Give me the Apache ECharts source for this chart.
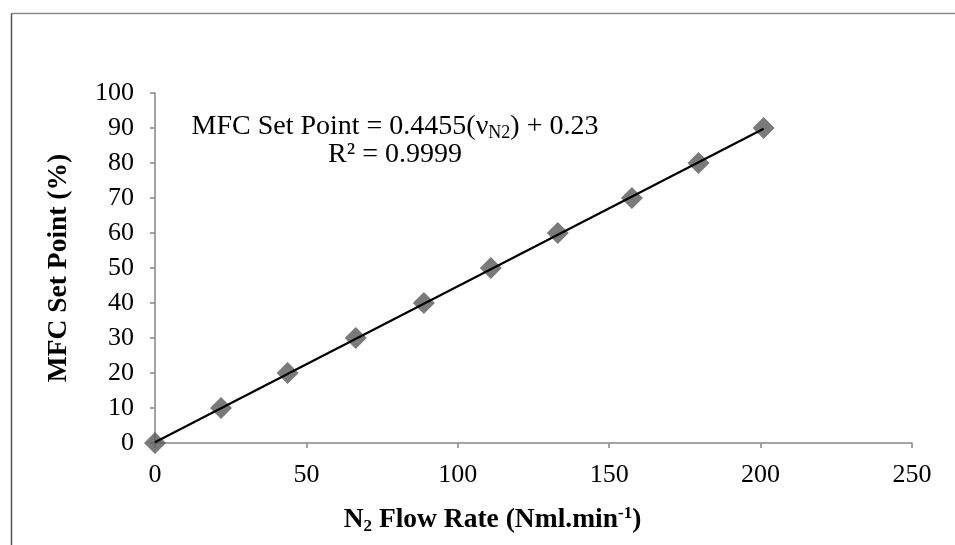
<!DOCTYPE html>
<html>
<head>
<meta charset="utf-8">
<script src="https://cdn.jsdelivr.net/npm/echarts@6/dist/echarts.min.js"></script>
<style>
  html, body { margin: 0; padding: 0; background: #fff; }
  #chart { width: 955px; height: 545px; }
</style>
</head>
<body>
<div id="chart"></div>
<script>
// Calibration data: N2 flow rate vs. MFC set point
const flowRate = [0, 21.8, 43.8, 66.3, 88.8, 110.9, 133.0, 157.5, 179.5, 201.0];
const setPoint = [0, 10, 20, 30, 40, 50, 60, 70, 80, 90];

// Linear fit reported on the chart
const fitSlope = 0.4455;
const fitIntercept = 0.23;
const fitR2 = '0.9999';

// Axis ranges and ticks
const xTicks = [0, 50, 100, 150, 200, 250];
const yTicks = [0, 10, 20, 30, 40, 50, 60, 70, 80, 90, 100];

const serif = '"Liberation Serif", "Times New Roman", serif';

const points = flowRate.map((x, i) => [x, setPoint[i]]);
const xFitEnd = Math.max(...flowRate);
const fitLine = [0, xFitEnd].map(x => [x, fitSlope * x + fitIntercept]);

const chart = echarts.init(document.getElementById('chart'), null, { renderer: 'canvas' });

chart.setOption({
  backgroundColor: '#fff',
  animation: false,
  grid: { left: 155, right: 43, top: 93, bottom: 102, containLabel: false },
  xAxis: {
    type: 'value',
    min: xTicks[0],
    max: xTicks[xTicks.length - 1],
    interval: xTicks[1] - xTicks[0],
    splitLine: { show: false },
    axisLine: { lineStyle: { color: '#868686', width: 1.5 } },
    axisTick: { show: true, length: 5, lineStyle: { color: '#868686', width: 1.5 } },
    axisLabel: { fontFamily: serif, fontSize: 26, color: '#000', margin: 19 },
    name: 'N{sub|2} Flow Rate (Nml.min{sup|-1})',
    nameLocation: 'middle',
    nameGap: 61,
    nameTextStyle: {
      fontFamily: serif, fontWeight: 'bold', fontSize: 27.5, color: '#000',
      padding: [0, 82, 0, 0],
      rich: {
        sub: { fontFamily: serif, fontWeight: 'bold', fontSize: 17, color: '#000', padding: [14, 0, 0, 0] },
        sup: { fontFamily: serif, fontWeight: 'bold', fontSize: 17, color: '#000', padding: [0, 0, 12, 0] }
      }
    }
  },
  yAxis: {
    type: 'value',
    min: yTicks[0],
    max: yTicks[yTicks.length - 1],
    interval: yTicks[1] - yTicks[0],
    splitLine: { show: false },
    axisLine: { show: true, lineStyle: { color: '#868686', width: 1.5 } },
    axisTick: { show: true, length: 5, lineStyle: { color: '#868686', width: 1.5 } },
    axisLabel: { fontFamily: serif, fontSize: 26, color: '#000', margin: 21 },
    name: 'MFC Set Point (%)',
    nameLocation: 'middle',
    nameGap: 82,
    nameTextStyle: { fontFamily: serif, fontWeight: 'bold', fontSize: 27.5, color: '#000' }
  },
  series: [
    {
      type: 'line',
      data: fitLine,
      showSymbol: false,
      symbol: 'none',
      lineStyle: { color: '#000', width: 2.2 },
      z: 3
    },
    {
      type: 'scatter',
      data: points,
      symbol: 'diamond',
      symbolSize: 22,
      itemStyle: { color: '#595959' },
      z: 2
    }
  ],
  graphic: [
    {
      type: 'line',
      shape: { x1: 11.5, y1: 13.5, x2: 955, y2: 13.5 },
      style: { stroke: '#888', lineWidth: 1.5 }
    },
    {
      type: 'line',
      shape: { x1: 11.5, y1: 13.5, x2: 11.5, y2: 545 },
      style: { stroke: '#555', lineWidth: 1.5 }
    },
    {
      type: 'text',
      x: 395,
      y: 113,
      style: {
        text: 'MFC Set Point = ' + fitSlope + '(ν{sub|N2}) + ' + fitIntercept + '\nR² = ' + fitR2,
        font: '28px ' + serif,
        fill: '#000',
        align: 'center',
        verticalAlign: 'top',
        lineHeight: 28,
        rich: {
          sub: { fontSize: 18, fontFamily: serif, fill: '#000', padding: [12, 0, 0, 0] }
        }
      }
    }
  ]
});
</script>
</body>
</html>
